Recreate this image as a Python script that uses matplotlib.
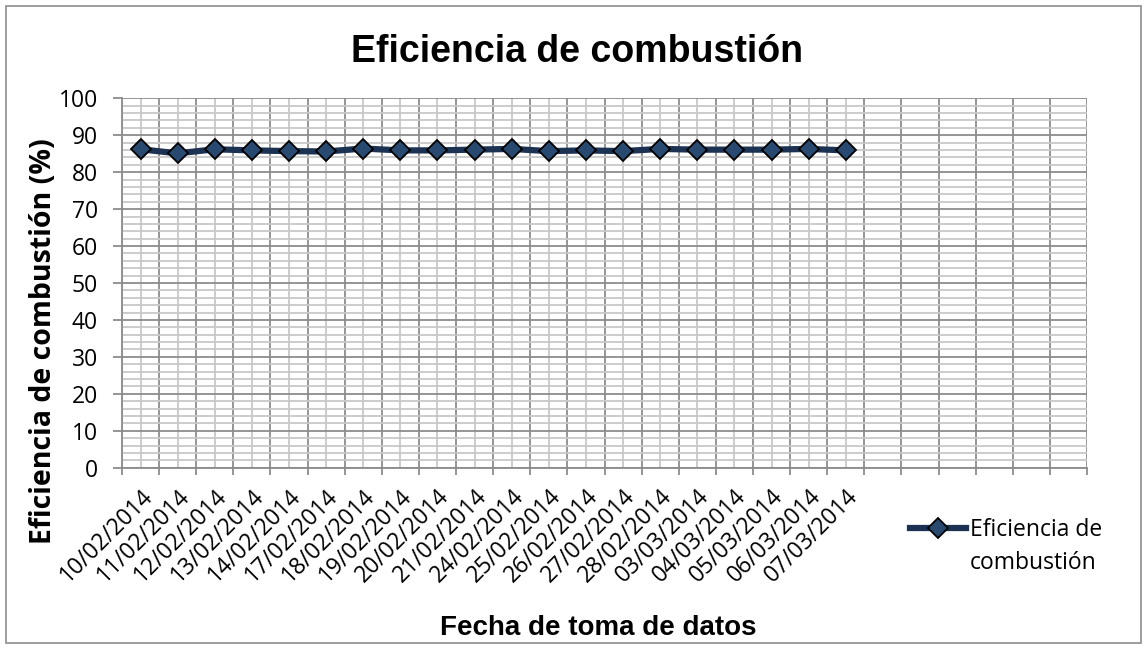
import matplotlib
matplotlib.use("Agg")
import matplotlib.pyplot as plt
from matplotlib.ticker import MultipleLocator, FixedLocator, NullFormatter
from matplotlib.patches import Rectangle

# data
fechas = [
    "10/02/2014", "11/02/2014", "12/02/2014", "13/02/2014", "14/02/2014",
    "17/02/2014", "18/02/2014", "19/02/2014", "20/02/2014", "21/02/2014",
    "24/02/2014", "25/02/2014", "26/02/2014", "27/02/2014", "28/02/2014",
    "03/03/2014", "04/03/2014", "05/03/2014", "06/03/2014", "07/03/2014",
]
eficiencia = [
    86.2, 85.1, 86.2, 85.9, 85.7, 85.6, 86.4, 85.9, 85.9, 86.1,
    86.3, 85.7, 85.9, 85.7, 86.3, 86.1, 86.1, 86.1, 86.3, 85.9,
]
n_categorias = 26  # axis has empty slots after the last date

LINE = "#1B3252"
MARKER = "#284A70"
MAJOR = "#8C8C8C"
MINOR = "#C8C8C8"
UI = ["Open Sans", "DejaVu Sans"]
ARIAL = ["Liberation Sans", "DejaVu Sans"]
W, H = 1147, 648

fig = plt.figure(figsize=(W / 100, H / 100), dpi=100)
fig.patches.append(Rectangle((6 / W, 5 / H), 1135 / W, 637 / H, transform=fig.transFigure,
                             fill=False, edgecolor="#8C8C8C", linewidth=1.2))
ax = fig.add_axes([122 / W, 1 - 467.7 / H, 965 / W, 369.4 / H])

x = list(range(len(eficiencia)))
ax.plot(x, eficiencia, color=LINE, linewidth=4.5, marker="D", markersize=10.5,
        markerfacecolor=MARKER, markeredgecolor="black", markeredgewidth=1.3,
        label="Eficiencia de", zorder=5, clip_on=False)

ax.set_xlim(-0.5, n_categorias - 0.5)
ax.set_ylim(0, 100)

# y grid: major every 10, minor every 2
ax.yaxis.set_major_locator(MultipleLocator(10))
ax.yaxis.set_minor_locator(MultipleLocator(2))
# x grid: major at category boundaries, minor at centres
ax.xaxis.set_major_locator(FixedLocator([k - 0.5 for k in range(n_categorias + 1)]))
ax.xaxis.set_major_formatter(NullFormatter())
ax.xaxis.set_minor_locator(FixedLocator(list(range(n_categorias))))
ax.set_xticks(x, minor=True)
ax.set_xticklabels(fechas, minor=True, rotation=45, ha="right", va="top",
                   rotation_mode="anchor", fontsize=16.5, family=UI)

ax.grid(which="major", color=MAJOR, linewidth=1.3)
ax.grid(which="minor", color=MINOR, linewidth=1.3)
ax.set_axisbelow(True)

ax.tick_params(axis="x", which="major", length=5, width=1.3, color=MAJOR, direction="out")
ax.tick_params(axis="x", which="minor", length=0, pad=12)
ax.tick_params(axis="y", which="major", length=6.5, width=1.3, color=MAJOR,
               labelsize=16.5, pad=11)
ax.tick_params(axis="y", which="minor", length=0)
for lab in ax.get_yticklabels():
    lab.set_family(UI)

for side in ["top", "right"]:
    ax.spines[side].set_visible(False)
for side in ["left", "bottom"]:
    ax.spines[side].set_color(MAJOR)
    ax.spines[side].set_linewidth(1.3)

fig.text(577 / W, 1 - 62 / H, "Eficiencia de combustión", fontsize=27,
         fontweight="bold", family=ARIAL, ha="center", va="baseline")
fig.text(44 / W, 1 - 341 / H, "Eficiencia de combustión (%)", fontsize=20.5,
         fontweight="bold", family=UI, rotation=90, ha="center", va="center")
fig.text(598 / W, 1 - 635 / H, "Fecha de toma de datos", fontsize=20,
         fontweight="bold", family=ARIAL, ha="center", va="baseline")

leg = ax.legend(loc="center left", bbox_to_anchor=(910 / W, 1 - 530 / H),
                bbox_transform=fig.transFigure, frameon=False,
                prop={"family": UI, "size": 16.5},
                handlelength=2.45, handletextpad=0.15, borderpad=0, borderaxespad=0)
fig.text(970 / W, 1 - 563 / H, "combustión", fontsize=16.5, family=UI,
         ha="left", va="center")

fig.savefig("out.png", dpi=100)
